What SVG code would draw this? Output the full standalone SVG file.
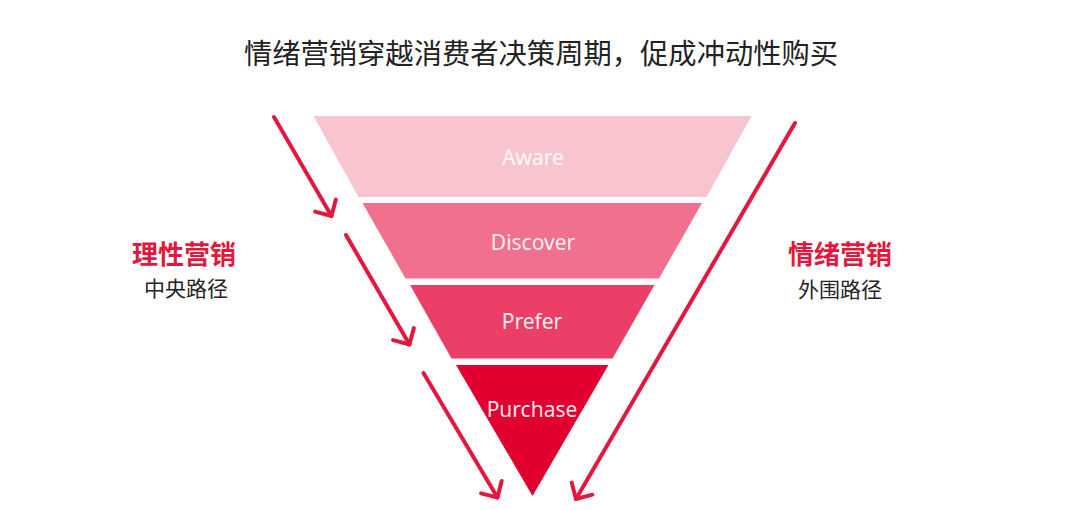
<svg xmlns="http://www.w3.org/2000/svg" width="1080" height="510" viewBox="0 0 1080 510">
<style>
.title{font-family:"Noto Sans CJK SC","Noto Sans",sans-serif;font-size:28.3px;fill:#222;text-anchor:middle}
.stage{font-family:"Noto Sans","Open Sans",sans-serif;font-size:21px;fill:#fff;fill-opacity:0.92;text-anchor:middle}
.lab{font-family:"Noto Sans CJK SC",sans-serif;font-size:26px;font-weight:bold;fill:#E2183E;text-anchor:middle}
.sub{font-family:"Noto Sans CJK SC",sans-serif;font-size:21px;fill:#222;text-anchor:middle}
.arr{stroke:#E2183E;stroke-width:4;stroke-linecap:round;fill:none;marker-end:url(#head)}
</style>
<defs>
<marker id="head" markerUnits="userSpaceOnUse" viewBox="-20 -20 40 40" markerWidth="40" markerHeight="40" refX="0" refY="0" orient="auto" overflow="visible">
<path d="M-12,-12 L0,0 L-12,12" fill="none" stroke="#E2183E" stroke-width="4" stroke-linecap="round" stroke-linejoin="round"/>
</marker>
</defs>
<rect width="1080" height="510" fill="#fff"/>
<text class="title" x="541" y="64">情绪营销穿越消费者决策周期，促成冲动性购买</text>
<g id="aware">
<polygon points="313.5,116 751.5,116 706.5,197 358.5,197" fill="#F8C5CF"/>
<text class="stage" x="533" y="165">Aware</text>
</g>
<g id="discover">
<polygon points="362.5,203 702,203 659,278.5 405.5,278.5" fill="#F0708D"/>
<text class="stage" x="533" y="250">Discover</text>
</g>
<g id="prefer">
<polygon points="410,285 654.5,285 612.5,358.5 451.5,358.5" fill="#EB3F68"/>
<text class="stage" x="532" y="329">Prefer</text>
</g>
<g id="purchase">
<polygon points="456,365 608.5,365 532.5,496" fill="#E20030"/>
<text class="stage" x="532" y="416.5">Purchase</text>
</g>
<g id="rational">
<text class="lab" x="184" y="263.5">理性营销</text>
<text class="sub" x="186" y="295.5">中央路径</text>
</g>
<g id="emotional">
<text class="lab" x="840" y="264">情绪营销</text>
<text class="sub" x="840" y="296.5">外围路径</text>
</g>
<g id="connectors">
<line class="arr" x1="274" y1="117" x2="331.5" y2="216"/>
<line class="arr" x1="346" y1="235" x2="409.5" y2="344.5"/>
<line class="arr" x1="423.5" y1="373" x2="497.5" y2="497.5"/>
<line class="arr" x1="795" y1="123" x2="576" y2="499"/>
</g>
</svg>
